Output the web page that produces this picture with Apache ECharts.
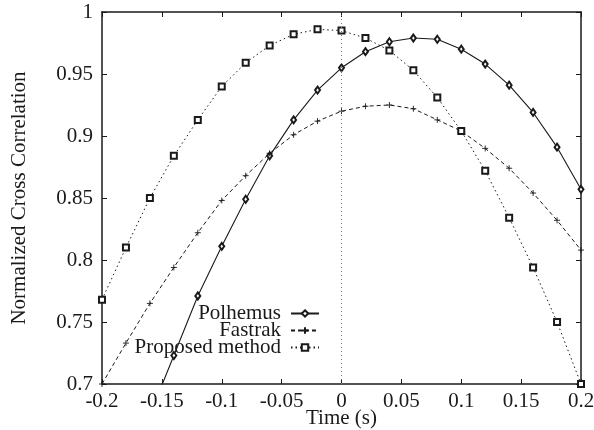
<!DOCTYPE html>
<html>
<head>
<meta charset="utf-8">
<script src="https://cdn.jsdelivr.net/npm/echarts@6/dist/echarts.min.js"></script>
<style>
  html, body { margin: 0; padding: 0; background: #fff; }
  #chart { width: 594px; height: 430px; }
</style>
</head>
<body>
<div id="chart"></div>
<script>
// time samples (s)
const times = [-0.2, -0.18, -0.16, -0.14, -0.12, -0.1, -0.08, -0.06, -0.04, -0.02, 0,
  0.02, 0.04, 0.06, 0.08, 0.1, 0.12, 0.14, 0.16, 0.18, 0.2]
// Polhemus starts at -0.16 (that point lies just below the axis and is clipped)
const polhemusTimes = times.slice(2)
const polhemus = [0.675, 0.723, 0.771, 0.811, 0.849, 0.884, 0.913, 0.937, 0.955,
  0.968, 0.976, 0.979, 0.978, 0.970, 0.958, 0.941, 0.919, 0.891, 0.857]
const fastrak = [0.700, 0.733, 0.765, 0.794, 0.822, 0.848, 0.868, 0.886, 0.901, 0.912, 0.920,
  0.924, 0.925, 0.922, 0.913, 0.904, 0.890, 0.874, 0.854, 0.832, 0.808]
const proposed = [0.768, 0.810, 0.850, 0.884, 0.913, 0.940, 0.959, 0.973, 0.982, 0.986, 0.985,
  0.979, 0.969, 0.953, 0.931, 0.904, 0.872, 0.834, 0.794, 0.750, 0.700]
const xTickLabels = ['-0.2', '-0.15', '-0.1', '-0.05', '0', '0.05', '0.1', '0.15', '0.2']
const yTickLabels = ['0.7', '0.75', '0.8', '0.85', '0.9', '0.95', '1']

const font = 'Liberation Serif, Times New Roman, serif'
const ink = '#1a1a1a'

function pairs(xs, ys) {
  return xs.map((x, i) => [x, ys[i]])
}

// onZero off, otherwise the right axis jumps to x = 0
const axisLine = { show: true, onZero: false, lineStyle: { color: ink, width: 1.5 } }
const axisTick = { show: true, inside: true, length: 5, lineStyle: { color: ink, width: 1 } }

const chart = echarts.init(document.getElementById('chart'))
chart.setOption({
  animation: false,
  backgroundColor: '#fff',
  grid: { left: 102, right: 13, top: 12, bottom: 46, outerBoundsMode: 'none' },
  legend: {
    orient: 'vertical',
    left: 126,
    top: 298,
    align: 'right',
    itemGap: -4,
    itemWidth: 28,
    itemHeight: 8,
    selectedMode: false,
    textStyle: {
      fontFamily: font, fontSize: 21, color: ink,
      width: 150, align: 'right', lineHeight: 17.5, padding: [0, 5, 0, 0]
    },
    data: ['Polhemus', 'Fastrak', 'Proposed method']
  },
  xAxis: [{
    type: 'value',
    min: -0.2,
    max: 0.2,
    interval: 0.05,
    name: 'Time (s)',
    nameLocation: 'middle',
    nameGap: 24,
    nameMoveOverlap: false,
    nameTextStyle: { fontFamily: font, fontSize: 21, color: ink },
    axisLine: axisLine,
    axisTick: axisTick,
    splitLine: { show: false },
    axisLabel: {
      fontFamily: font, fontSize: 21, color: ink, margin: 7,
      formatter: (v) => xTickLabels[Math.round((v + 0.2) / 0.05)]
    }
  }, {
    type: 'value',
    position: 'top',
    min: -0.2,
    max: 0.2,
    interval: 0.05,
    axisLine: axisLine,
    axisTick: axisTick,
    axisLabel: { show: false },
    splitLine: { show: false }
  }],
  yAxis: [{
    type: 'value',
    min: 0.7,
    max: 1,
    interval: 0.05,
    name: 'Normalized Cross Correlation',
    nameLocation: 'middle',
    nameGap: 72,
    nameMoveOverlap: false,
    nameTextStyle: { fontFamily: font, fontSize: 21, color: ink },
    axisLine: axisLine,
    axisTick: axisTick,
    splitLine: { show: false },
    axisLabel: {
      fontFamily: font, fontSize: 21, color: ink, margin: 9,
      formatter: (v) => yTickLabels[Math.round((v - 0.7) / 0.05)]
    }
  }, {
    type: 'value',
    position: 'right',
    min: 0.7,
    max: 1,
    interval: 0.05,
    axisLine: axisLine,
    axisTick: axisTick,
    axisLabel: { show: false },
    splitLine: { show: false }
  }],
  series: [
    {
      name: 'Polhemus',
      type: 'line',
      clip: true,
      data: pairs(polhemusTimes, polhemus),
      symbol: 'emptyDiamond',
      symbolSize: [5, 7],
      lineStyle: { color: ink, width: 1.1, type: 'solid' },
      itemStyle: { color: ink, borderColor: ink, borderWidth: 0.9 },
      markLine: {
        silent: true,
        symbol: ['none', 'none'],
        label: { show: false },
        lineStyle: { color: '#777', width: 1, type: [1, 3] },
        data: [{ xAxis: 0 }]
      }
    },
    {
      name: 'Fastrak',
      type: 'line',
      clip: true,
      data: pairs(times, fastrak),
      symbol: 'path://M5,0L5,10M0,5L10,5',
      symbolSize: 6,
      lineStyle: { color: ink, width: 1, type: [4, 3] },
      itemStyle: { color: ink, borderColor: ink, borderWidth: 0.9 }
    },
    {
      name: 'Proposed method',
      type: 'line',
      clip: true,
      data: pairs(times, proposed),
      symbol: 'emptyRect',
      symbolSize: 6,
      lineStyle: { color: ink, width: 1, type: [1.5, 3] },
      itemStyle: { color: ink, borderColor: ink, borderWidth: 0.9 }
    }
  ]
})
</script>
</body>
</html>
